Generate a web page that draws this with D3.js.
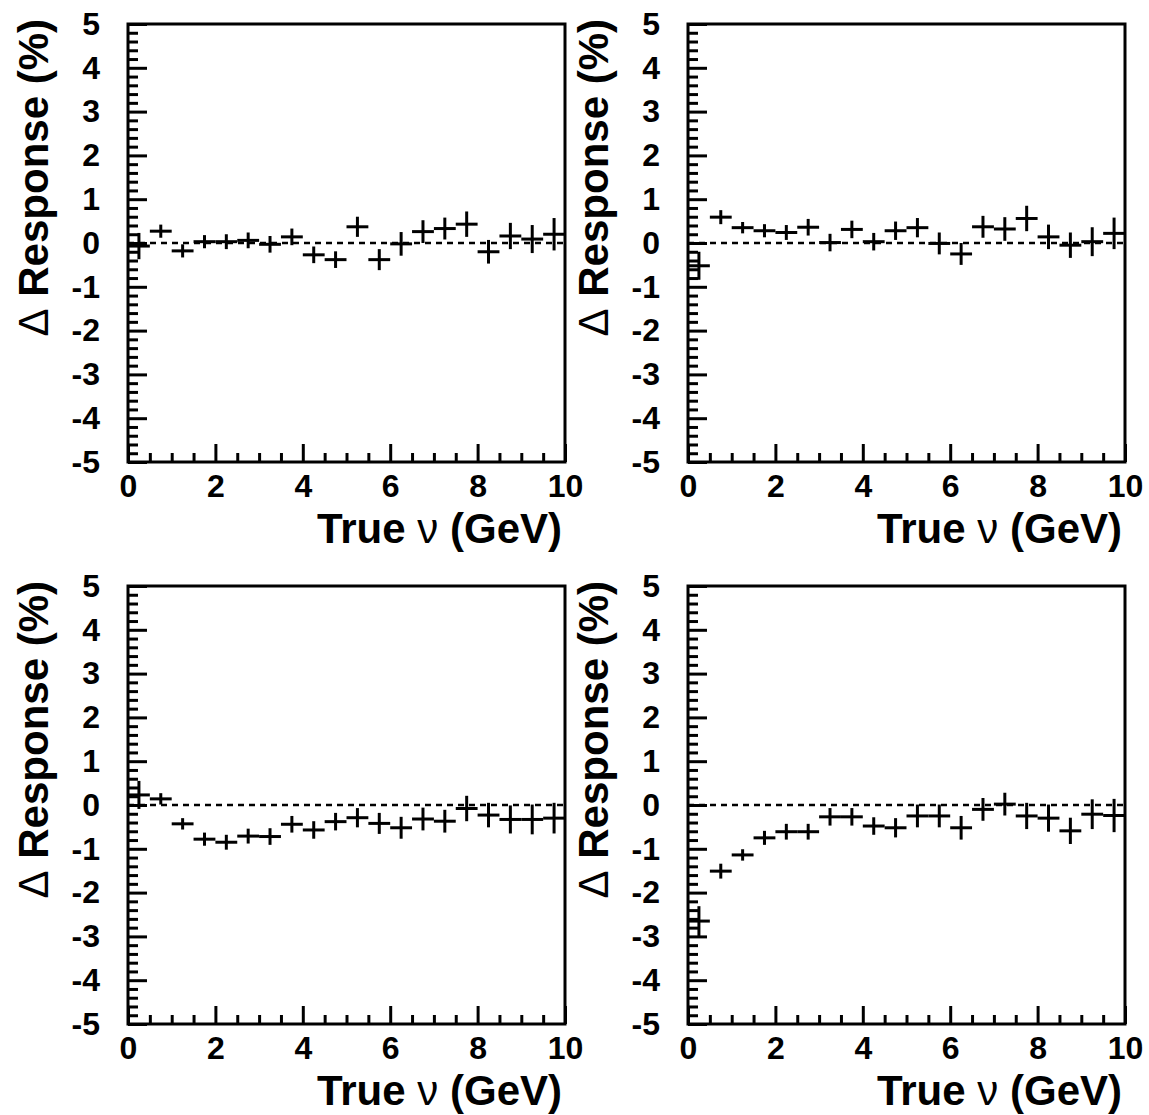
<!DOCTYPE html>
<html>
<head>
<meta charset="utf-8">
<script src="https://cdn.jsdelivr.net/npm/d3@7/dist/d3.min.js"></script>
<style>
  html, body { margin: 0; padding: 0; background: #fff; }
  svg { display: block; }
  text { font-family: "Liberation Sans", Arial, Helvetica, sans-serif; font-weight: bold; fill: #000; }
</style>
</head>
<body>
<svg id="chart" width="1149" height="1115"></svg>
<script>
// ---- data ----
const binCenters = [0.25, 0.75, 1.25, 1.75, 2.25, 2.75, 3.25, 3.75, 4.25, 4.75,
                    5.25, 5.75, 6.25, 6.75, 7.25, 7.75, 8.25, 8.75, 9.25, 9.75];
const binHalfWidth = 0.25;

const topLeftValues  = [-0.07, 0.27, -0.18, 0.03, 0.03, 0.06, -0.03, 0.14, -0.27, -0.38,
                         0.37, -0.38, -0.02, 0.26, 0.33, 0.43, -0.2, 0.16, 0.09, 0.2];
const topLeftErrors  = [0.3, 0.15, 0.15, 0.15, 0.17, 0.18, 0.19, 0.19, 0.19, 0.19,
                        0.23, 0.24, 0.27, 0.26, 0.25, 0.29, 0.27, 0.3, 0.32, 0.37];

const topRightValues = [-0.52, 0.59, 0.35, 0.28, 0.24, 0.36, 0.01, 0.31, 0.03, 0.28,
                         0.35, -0.01, -0.25, 0.37, 0.32, 0.56, 0.14, -0.05, 0.03, 0.22];
const topRightErrors = [0.32, 0.16, 0.13, 0.15, 0.17, 0.19, 0.2, 0.2, 0.2, 0.21,
                        0.22, 0.25, 0.25, 0.25, 0.27, 0.29, 0.28, 0.29, 0.33, 0.36];

const botLeftValues  = [0.23, 0.14, -0.43, -0.78, -0.85, -0.71, -0.72, -0.44, -0.57, -0.38,
                        -0.29, -0.42, -0.52, -0.32, -0.37, -0.08, -0.23, -0.33, -0.33, -0.3];
const botLeftErrors  = [0.32, 0.13, 0.13, 0.15, 0.17, 0.17, 0.19, 0.19, 0.2, 0.2,
                        0.22, 0.24, 0.25, 0.26, 0.26, 0.29, 0.28, 0.32, 0.34, 0.35];

const botRightValues = [-2.65, -1.51, -1.14, -0.75, -0.61, -0.61, -0.27, -0.27, -0.48, -0.52,
                        -0.25, -0.25, -0.52, -0.1, 0.02, -0.25, -0.3, -0.59, -0.21, -0.24];
const botRightErrors = [0.34, 0.17, 0.13, 0.16, 0.18, 0.18, 0.2, 0.2, 0.2, 0.22,
                        0.26, 0.26, 0.27, 0.26, 0.26, 0.3, 0.31, 0.3, 0.34, 0.38];

const xMajorTicks = [0, 2, 4, 6, 8, 10];
const xMinorTicks = [0.5, 1, 1.5, 2.5, 3, 3.5, 4.5, 5, 5.5, 6.5, 7, 7.5, 8.5, 9, 9.5];
const yMajorTicks = [-5, -4, -3, -2, -1, 0, 1, 2, 3, 4, 5];
const yMinorTicks = [-4.8, -4.6, -4.4, -4.2, -3.8, -3.6, -3.4, -3.2, -2.8, -2.6, -2.4, -2.2,
                     -1.8, -1.6, -1.4, -1.2, -0.8, -0.6, -0.4, -0.2, 0.2, 0.4, 0.6, 0.8,
                     1.2, 1.4, 1.6, 1.8, 2.2, 2.4, 2.6, 2.8, 3.2, 3.4, 3.6, 3.8,
                     4.2, 4.4, 4.6, 4.8];
const xTitle = "True ";
const xTitleSym = "\u03bd";
const xTitleEnd = " (GeV)";
const yTitleSym = "\u0394";
const yTitle = " Response (%)";

const panels = [
  { values: topLeftValues,  errors: topLeftErrors,  left: 128, top: 24 },
  { values: topRightValues, errors: topRightErrors, left: 688, top: 24 },
  { values: botLeftValues,  errors: botLeftErrors,  left: 128, top: 586 },
  { values: botRightValues, errors: botRightErrors, left: 688, top: 586 }
];

// ---- drawing ----
const W = 437, H = 438;
const svg = d3.select("#chart");

panels.forEach(p => {
  const g = svg.append("g").attr("transform", `translate(${p.left},${p.top})`);
  const x = d3.scaleLinear().domain([0, 10]).range([0, W]);
  const y = d3.scaleLinear().domain([-5, 5]).range([H, 0]);

  // dashed zero line
  g.append("line")
    .attr("x1", x(0)).attr("x2", x(10))
    .attr("y1", y(0)).attr("y2", y(0))
    .attr("stroke", "#000").attr("stroke-width", 2.5)
    .attr("stroke-dasharray", "6,5");

  // data crosses
  const pts = g.append("g");
  binCenters.forEach((c, i) => {
    const v = p.values[i], e = p.errors[i];
    pts.append("line")
      .attr("x1", x(c - binHalfWidth)).attr("x2", x(c + binHalfWidth))
      .attr("y1", y(v)).attr("y2", y(v))
      .attr("stroke", "#000").attr("stroke-width", 3);
    pts.append("line")
      .attr("x1", x(c)).attr("x2", x(c))
      .attr("y1", y(v - e)).attr("y2", y(v + e))
      .attr("stroke", "#000").attr("stroke-width", 3);
  });

  // axes
  const xMaj = g.append("g").attr("transform", `translate(0,${H})`)
    .call(d3.axisBottom(x).tickValues(xMajorTicks).tickSize(-18).tickPadding(12).tickFormat(d3.format("d")));
  const xMin = g.append("g").attr("transform", `translate(0,${H})`)
    .call(d3.axisBottom(x).tickValues(xMinorTicks).tickSize(-9).tickFormat(""));
  const yMaj = g.append("g")
    .call(d3.axisLeft(y).tickValues(yMajorTicks).tickSize(-19).tickPadding(28).tickFormat(d3.format("d")));
  const yMin = g.append("g")
    .call(d3.axisLeft(y).tickValues(yMinorTicks).tickSize(-10).tickFormat(""));

  [xMaj, xMin, yMaj, yMin].forEach(a => {
    a.select(".domain").remove();
    a.selectAll(".tick line").attr("stroke", "#000").attr("stroke-width", 3);
    a.selectAll("text")
      .style("font-family", '"Liberation Sans", Arial, sans-serif')
      .style("font-weight", "bold")
      .style("font-size", "32px")
      .attr("fill", "#000");
  });
  yMaj.selectAll("text").text(d => d3.format("d")(d).replace("\u2212", "-"));

  // frame
  g.append("rect")
    .attr("x", 0).attr("y", 0).attr("width", W).attr("height", H)
    .attr("fill", "none").attr("stroke", "#000").attr("stroke-width", 3);

  // x title
  const xt = g.append("text")
    .attr("x", W - 3).attr("y", H + 81)
    .attr("text-anchor", "end")
    .style("font-size", "42px");
  xt.append("tspan").text(xTitle);
  xt.append("tspan").style("font-weight", "normal").text(xTitleSym);
  xt.append("tspan").text(xTitleEnd);

  // y title
  const yt = g.append("text")
    .attr("transform", `translate(-80,-5) rotate(-90)`)
    .attr("text-anchor", "end")
    .style("font-size", "42px");
  yt.append("tspan").style("font-weight", "normal").text(yTitleSym);
  yt.append("tspan").text(yTitle);
});
</script>
</body>
</html>
